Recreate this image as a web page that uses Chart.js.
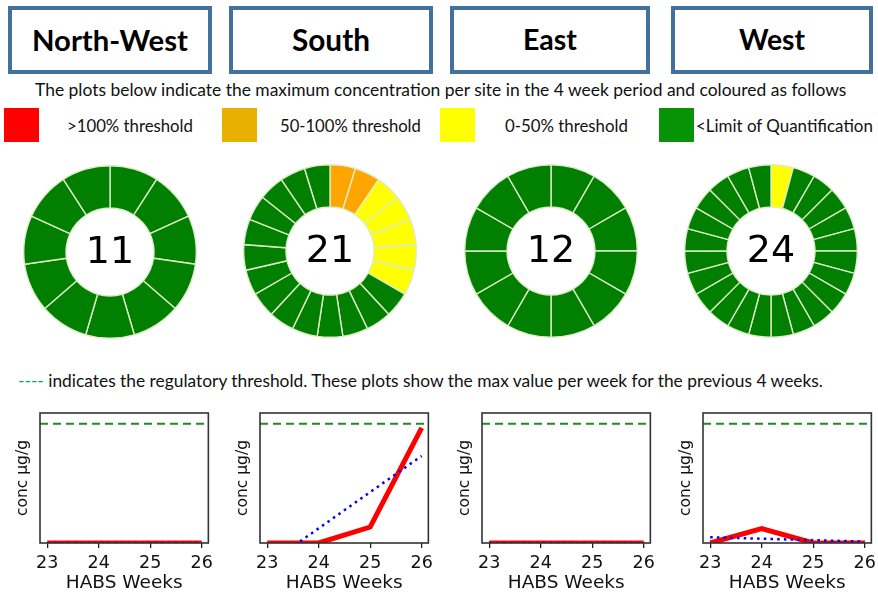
<!DOCTYPE html>
<html>
<head>
<meta charset="utf-8">
<script src="https://cdn.jsdelivr.net/npm/chart.js@4"></script>
<style>
  body { margin: 0; width: 878px; height: 594px; overflow: hidden; background: #fff; position: relative; font-family: Lato, "Open Sans", sans-serif; color: #111; }
  .box { position: absolute; top: 6px; height: 68px; box-sizing: border-box; border: 4px solid #41719c; background: #fff; }
  .box span { position: absolute; left: 50%; top: 50%; transform: translate(-50%, -52%); font-weight: bold; white-space: nowrap; color: #000; }
  .t { position: absolute; white-space: nowrap; line-height: 1; transform: translateY(-50%); }
  .sq { position: absolute; top: 108px; width: 35px; height: 34px; }
  .pie { position: absolute; width: 174px; height: 174px; }
  .lc { position: absolute; top: 400px; width: 218px; height: 194px; }
</style>
</head>
<body>
  <div class="box" style="left:8px;width:204px"><span data-w="156" style="font-size:28px">North-West</span></div>
  <div class="box" style="left:229px;width:204px"><span data-w="78" style="font-size:28px">South</span></div>
  <div class="box" style="left:450px;width:200px"><span data-w="54" style="font-size:28px">East</span></div>
  <div class="box" style="left:671px;width:202px"><span data-w="66" style="font-size:28px">West</span></div>

  <div class="t" data-w="812" style="left:35px;top:90px;font-size:17px">The plots below indicate the maximum concentration per site in the 4 week period and coloured as follows</div>

  <div class="sq" style="left:4px;background:#ff0000"></div>
  <div class="t" data-w="126" style="left:67px;top:126px;font-size:17px">&gt;100% threshold</div>
  <div class="sq" style="left:222px;background:#e8b000"></div>
  <div class="t" data-w="141" style="left:280px;top:126px;font-size:17px">50-100% threshold</div>
  <div class="sq" style="left:440px;background:#ffff00"></div>
  <div class="t" data-w="123" style="left:505px;top:126px;font-size:17px">0-50% threshold</div>
  <div class="sq" style="left:659px;background:#069306"></div>
  <div class="t" data-w="177" style="left:696px;top:126px;font-size:17px">&lt;Limit of Quantification</div>

  <div class="t" data-w="805" style="left:18px;top:381px;font-size:16px"><span style="color:#00b050">----</span> indicates the regulatory threshold. These plots show the max value per week for the previous 4 weeks.</div>

  <div class="pie" style="left:23px;top:165px"><canvas id="pieNW"></canvas></div>
  <div class="pie" style="left:243px;top:164px"><canvas id="pieS"></canvas></div>
  <div class="pie" style="left:464px;top:164px"><canvas id="pieE"></canvas></div>
  <div class="pie" style="left:684px;top:164px"><canvas id="pieW"></canvas></div>

  <div class="lc" style="left:0px"><canvas id="lineNW"></canvas></div>
  <div class="lc" style="left:220px"><canvas id="lineS"></canvas></div>
  <div class="lc" style="left:442px"><canvas id="lineE"></canvas></div>
  <div class="lc" style="left:663px"><canvas id="lineW"></canvas></div>

<script>
// level per site: 3 = >100%, 2 = 50-100%, 1 = 0-50%, 0 = <LOQ
const nwLevels = [0, 0, 0, 0, 0, 0, 0, 0, 0, 0, 0];
const southLevels = [2, 2, 1, 1, 1, 1, 1, 0, 0, 0, 0, 0, 0, 0, 0, 0, 0, 0, 0, 0, 0];
const eastLevels = [0, 0, 0, 0, 0, 0, 0, 0, 0, 0, 0, 0];
const westLevels = [1, 0, 0, 0, 0, 0, 0, 0, 0, 0, 0, 0, 0, 0, 0, 0, 0, 0, 0, 0, 0, 0, 0, 0];
const levelColours = ['#007f00', '#ffff00', '#ffa500', '#ff0000'];

// weekly max concentration, relative to the regulatory threshold
const weeks = [23, 24, 25, 26];
const threshold = 1.0;
const nwMax = [0, 0, 0, 0];
const southMax = [0, 0, 0.134, 0.966];
const eastMax = [0, 0, 0, 0];
const westMax = [0, 0.12, 0, 0];
const nwTrend = [0, 0, 0, 0];
const southTrend = [-0.18, 0.123, 0.427, 0.73];
const eastTrend = [0, 0, 0, 0];
const westTrend = [0.048, 0.036, 0.024, 0.012];
const xMin = 22.86, xMax = 26.13, yMax = 1.09;

document.querySelectorAll('[data-w]').forEach(el => {
    const w = el.getBoundingClientRect().width;
    el.style.fontSize = (parseFloat(el.style.fontSize) * el.dataset.w / w) + 'px';
});

const centreText = {
    id: 'centreText',
    afterDraw(chart) {
        const { ctx, chartArea: a } = chart;
        ctx.save();
        ctx.font = '38px "DejaVu Sans"';
        ctx.fillStyle = '#000';
        ctx.textAlign = 'center';
        ctx.textBaseline = 'middle';
        ctx.fillText(String(chart.data.datasets[0].data.length), (a.left + a.right) / 2, (a.top + a.bottom) / 2 + 1);
        ctx.restore();
    }
};

function siteRing(id, levels) {
    new Chart(document.getElementById(id), {
        type: 'doughnut',
        data: {
            labels: levels.map((l, i) => 'Site ' + (i + 1)),
            datasets: [{
                data: levels.map(() => 1),
                backgroundColor: levels.map(l => levelColours[l]),
                borderColor: '#dcecc6',
                borderWidth: 1.4
            }]
        },
        options: {
            animation: false,
            responsive: true,
            maintainAspectRatio: false,
            cutout: '51%',
            plugins: { legend: { display: false }, tooltip: { enabled: false } }
        },
        plugins: [centreText]
    });
}

const frame = {
    id: 'frame',
    afterDatasetsDraw(chart) {
        const { ctx, chartArea: a } = chart;
        ctx.save();
        ctx.strokeStyle = '#333';
        ctx.lineWidth = 1.6;
        ctx.strokeRect(a.left, a.top, a.width, a.height);
        ctx.restore();
    }
};

function weekChart(id, maxVals, trendVals) {
    new Chart(document.getElementById(id), {
        type: 'line',
        data: {
            datasets: [{
                data: trendVals.map((v, i) => ({ x: weeks[i], y: v })),
                borderColor: '#0000ff',
                borderWidth: 2.5,
                borderDash: [2.5, 4.2],
                pointRadius: 0,
                order: 0,
                clip: 0
            }, {
                data: maxVals.map((v, i) => ({ x: weeks[i], y: v })),
                borderColor: '#ff0000',
                borderWidth: 5,
                pointRadius: 0,
                order: 1,
                clip: 0
            }, {
                data: [{ x: xMin, y: threshold }, { x: xMax, y: threshold }],
                borderColor: '#228b22',
                borderWidth: 2,
                borderDash: [8, 5],
                pointRadius: 0,
                order: 2,
                clip: 0
            }]
        },
        options: {
            animation: false,
            responsive: true,
            maintainAspectRatio: false,
            layout: { padding: { top: 13, right: 5, left: 0, bottom: 0 } },
            plugins: { legend: { display: false }, tooltip: { enabled: false } },
            scales: {
                x: {
                    type: 'linear',
                    min: xMin,
                    max: xMax,
                    afterBuildTicks: s => { s.ticks = weeks.map(v => ({ value: v })); },
                    afterFit: s => { s.height = 51; },
                    grid: { drawOnChartArea: false, drawTicks: true, tickLength: 5, color: '#222', lineWidth: 1.3 },
                    border: { display: false },
                    ticks: { color: '#111', font: { family: 'DejaVu Sans', size: 17.5 }, padding: 5, maxRotation: 0 },
                    title: { display: true, text: 'HABS Weeks', color: '#111', font: { family: 'DejaVu Sans', size: 18.5 }, padding: { top: 0, bottom: 0 } }
                },
                y: {
                    min: 0,
                    max: yMax,
                    afterFit: s => { s.width = 40; },
                    grid: { display: false },
                    border: { display: false },
                    ticks: { display: false },
                    title: { display: true, text: 'conc µg/g', color: '#111', font: { family: 'DejaVu Sans', size: 15.5 }, padding: { top: 13.5, bottom: 0 } }
                }
            }
        },
        plugins: [frame]
    });
}

siteRing('pieNW', nwLevels);
siteRing('pieS', southLevels);
siteRing('pieE', eastLevels);
siteRing('pieW', westLevels);

weekChart('lineNW', nwMax, nwTrend);
weekChart('lineS', southMax, southTrend);
weekChart('lineE', eastMax, eastTrend);
weekChart('lineW', westMax, westTrend);
</script>
</body>
</html>
